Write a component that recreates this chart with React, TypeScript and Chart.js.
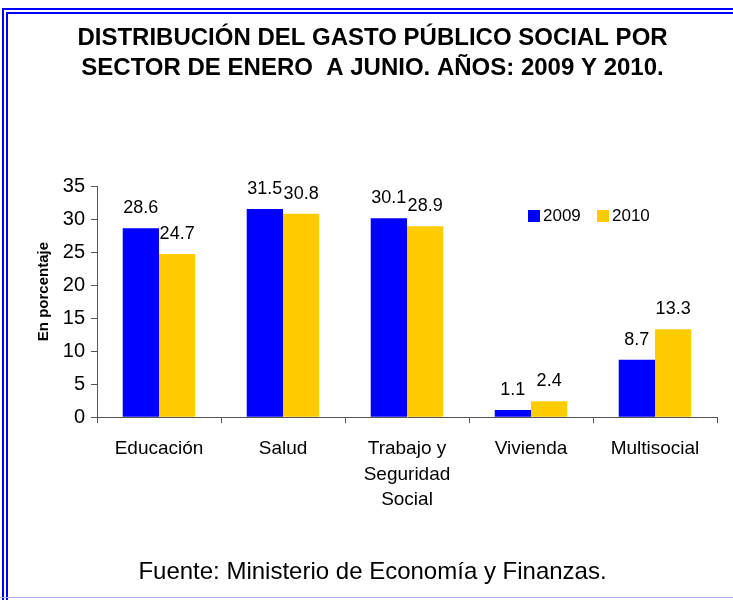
import React, { useEffect, useRef } from 'react';
import { Chart, registerables } from 'chart.js';

Chart.register(...registerables);

const FONT = '"Liberation Sans", Arial, Helvetica, sans-serif';

const titleLines = [
  'DISTRIBUCIÓN DEL GASTO PÚBLICO SOCIAL POR',
  'SECTOR DE ENERO  A JUNIO. AÑOS: 2009 Y 2010.',
];
const categories: (string | string[])[] = [
  'Educación',
  'Salud',
  ['Trabajo y', 'Seguridad', 'Social'],
  'Vivienda',
  'Multisocial',
];
const seriesNames = ['2009', '2010'];
const values2009 = [28.6, 31.5, 30.1, 1.1, 8.7];
const values2010 = [24.7, 30.8, 28.9, 2.4, 13.3];
const seriesColors = ['#0000FF', '#FFCC00'];
const yMin = 0;
const yMax = 35;
const yStep = 5;
const yTitle = 'En porcentaje';
const sourceText = 'Fuente: Ministerio de Economía y Finanzas.';

const valueLabels = {
  id: 'valueLabels',
  afterDatasetsDraw(chart: any) {
    const ctx = chart.ctx;
    ctx.save();
    ctx.font = `18px ${FONT}`;
    ctx.fillStyle = '#000';
    ctx.textAlign = 'center';
    ctx.textBaseline = 'middle';
    chart.data.datasets.forEach((ds: any, i: number) => {
      const meta = chart.getDatasetMeta(i);
      meta.data.forEach((bar: any, j: number) => {
        ctx.fillText(String(ds.data[j]), bar.x, bar.y - 20);
      });
    });
    ctx.restore();
  },
};

const customLegend = {
  id: 'customLegend',
  afterDraw(chart: any) {
    const ctx = chart.ctx;
    const area = chart.chartArea;
    ctx.save();
    ctx.font = `17px ${FONT}`;
    ctx.textBaseline = 'middle';
    ctx.textAlign = 'left';
    let x = area.left + 431;
    const y = area.top + 24;
    chart.data.datasets.forEach((ds: any) => {
      ctx.fillStyle = ds.backgroundColor;
      ctx.fillRect(x, y, 12, 12);
      ctx.fillStyle = '#000';
      ctx.fillText(ds.label, x + 15, y + 6);
      x += 69;
    });
    ctx.restore();
  },
};

const yAxisTitle = {
  id: 'yAxisTitle',
  afterDraw(chart: any) {
    const ctx = chart.ctx;
    const area = chart.chartArea;
    ctx.save();
    ctx.font = `bold 15px ${FONT}`;
    ctx.fillStyle = '#000';
    ctx.textAlign = 'center';
    ctx.textBaseline = 'middle';
    ctx.translate(44, (area.top + area.bottom) / 2 - 10);
    ctx.rotate(-Math.PI / 2);
    ctx.fillText(yTitle, 0, 0);
    ctx.restore();
  },
};

export default function App() {
  const ref = useRef<HTMLCanvasElement | null>(null);

  useEffect(() => {
    if (!ref.current) return;
    const chart = new Chart(ref.current, {
      type: 'bar',
      data: {
        labels: categories as any,
        datasets: [
          {
            label: seriesNames[0],
            data: values2009,
            backgroundColor: seriesColors[0],
            categoryPercentage: 0.585,
            barPercentage: 1,
          },
          {
            label: seriesNames[1],
            data: values2010,
            backgroundColor: seriesColors[1],
            categoryPercentage: 0.585,
            barPercentage: 1,
          },
        ],
      },
      options: {
        responsive: false,
        animation: false,
        layout: { padding: { left: 28, right: 16, top: 0, bottom: 0 } },
        plugins: {
          legend: { display: false },
          tooltip: { enabled: false },
          title: {
            display: true,
            text: titleLines,
            color: '#000',
            font: { family: FONT, size: 24, weight: 'bold', lineHeight: 1.25 },
            padding: { top: 23, bottom: 103 },
          },
          subtitle: {
            display: true,
            position: 'bottom',
            text: sourceText,
            color: '#000',
            font: { family: FONT, size: 24, lineHeight: 1.2 },
            padding: { top: 0, bottom: 13 },
          },
        },
        scales: {
          x: {
            grid: { offset: true, drawOnChartArea: false, tickLength: 6, color: '#555' },
            border: { color: '#555' },
            ticks: {
              color: '#000',
              font: { family: FONT, size: 19, lineHeight: 1.34 },
              padding: 13,
              maxRotation: 0,
              autoSkip: false,
            },
            afterFit: (s: any) => {
              s.height = 141;
            },
          },
          y: {
            min: yMin,
            max: yMax,
            ticks: {
              stepSize: yStep,
              color: '#000',
              font: { family: FONT, size: 20 },
              padding: 6,
            },
            grid: { drawOnChartArea: false, tickLength: 6, color: '#555' },
            border: { color: '#555' },
            afterFit: (s: any) => {
              s.width = 69;
            },
          },
        },
      },
      plugins: [valueLabels, customLegend, yAxisTitle],
    });
    return () => chart.destroy();
  }, []);

  return (
    <div style={{ position: 'fixed', left: 0, top: 0, width: 733, height: 600, background: '#fff', overflow: 'hidden' }}>
      <canvas ref={ref} width={733} height={600} style={{ position: 'absolute', left: 0, top: 0 }} />
      <div style={{ position: 'absolute', left: 2, top: 8, width: 731, height: 2, background: '#0000FF' }} />
      <div style={{ position: 'absolute', left: 6, top: 12, width: 727, height: 2, background: '#0000FF' }} />
      <div style={{ position: 'absolute', left: 2, top: 8, width: 2, height: 592, background: '#0000FF' }} />
      <div style={{ position: 'absolute', left: 6, top: 12, width: 2, height: 588, background: '#0000FF' }} />
      <div style={{ position: 'absolute', left: 0, top: 597, width: 733, height: 1, background: '#AAAAEE' }} />
    </div>
  );
}
